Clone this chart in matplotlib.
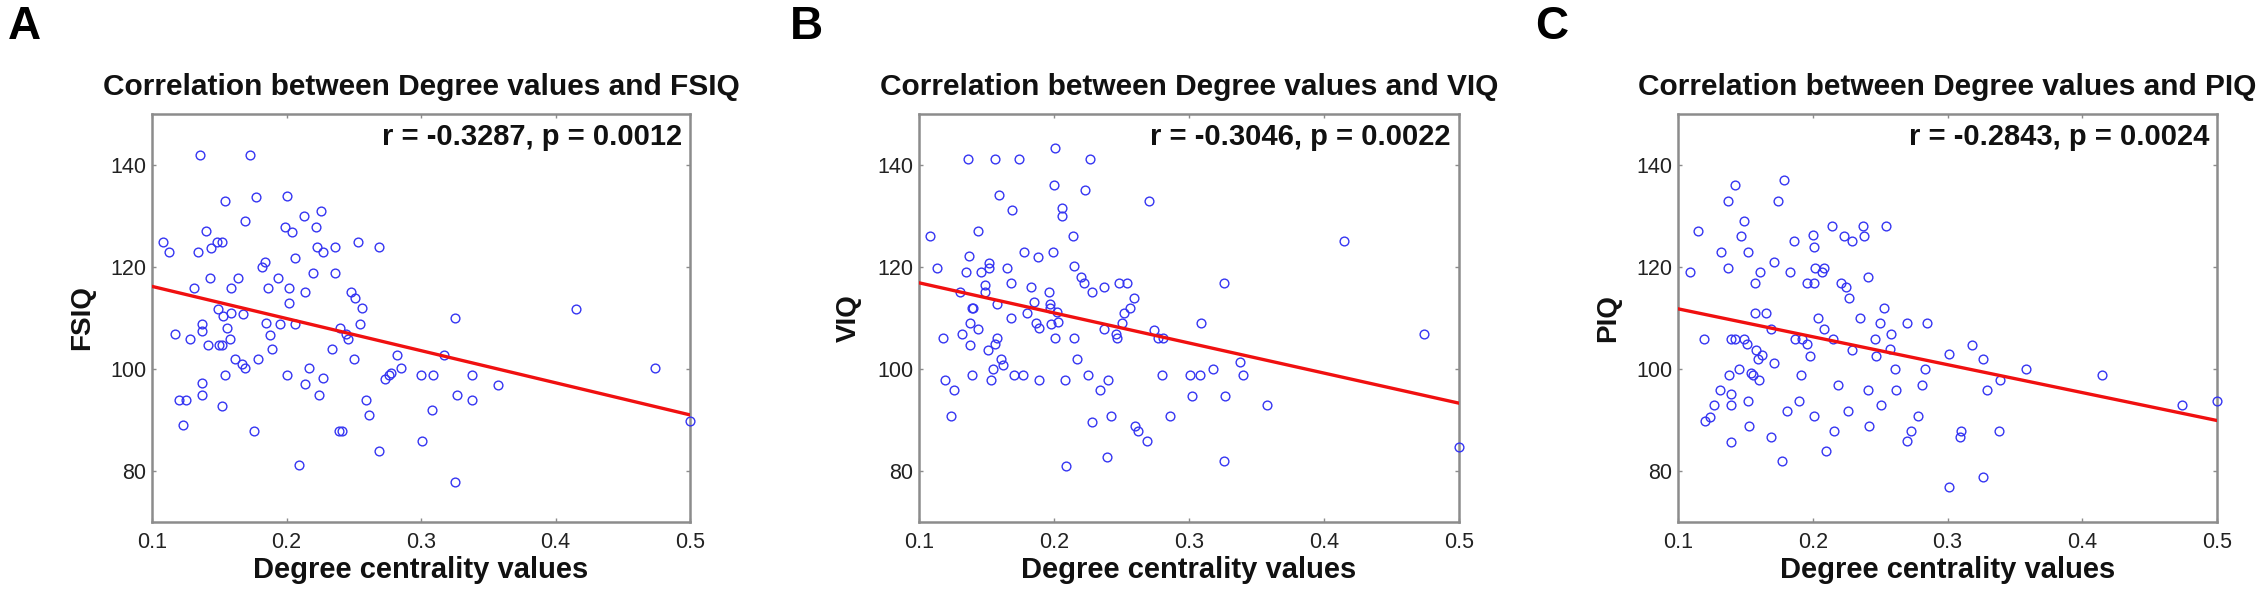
import matplotlib
matplotlib.use("Agg")
import matplotlib.pyplot as plt
import numpy as np

plt.rcParams['font.family'] = ['Liberation Sans', 'DejaVu Sans']

# ---------------- data ----------------
degree_A = [0.108, 0.113, 0.131, 0.117, 0.128, 0.120, 0.125, 0.123, 0.136, 0.134,
            0.140, 0.144, 0.148, 0.152, 0.143, 0.137, 0.137, 0.142, 0.150, 0.152,
            0.137, 0.137, 0.152, 0.154, 0.154, 0.149, 0.153, 0.156, 0.158, 0.159,
            0.159, 0.164, 0.162, 0.167, 0.169, 0.168, 0.169, 0.173, 0.177, 0.176,
            0.179, 0.182, 0.184, 0.186, 0.185, 0.188, 0.189, 0.194, 0.195, 0.200,
            0.199, 0.202, 0.202, 0.200, 0.204, 0.206, 0.206, 0.209, 0.213, 0.214,
            0.214, 0.217, 0.220, 0.222, 0.223, 0.224, 0.226, 0.227, 0.227, 0.234,
            0.236, 0.236, 0.239, 0.241, 0.240, 0.244, 0.246, 0.248, 0.250, 0.251,
            0.253, 0.255, 0.256, 0.259, 0.261, 0.269, 0.269, 0.273, 0.276, 0.278,
            0.282, 0.285, 0.301, 0.300, 0.309, 0.308, 0.317, 0.325, 0.325, 0.327,
            0.338, 0.338, 0.357, 0.415, 0.474, 0.500]
fsiq = [124.9, 122.9, 115.9, 106.8, 105.9, 94.0, 94.0, 89.0, 141.9, 122.9,
        127.0, 123.8, 124.9, 124.9, 117.8, 108.9, 107.4, 104.8, 104.8, 104.8,
        97.2, 94.9, 92.8, 98.9, 132.9, 111.8, 110.3, 108.1, 105.9, 110.9,
        115.9, 117.8, 101.9, 101.0, 100.1, 110.7, 129.0, 141.9, 133.7, 87.8,
        101.9, 120.0, 120.9, 115.9, 109.0, 106.6, 103.9, 117.8, 108.9, 134.0,
        127.9, 115.9, 112.9, 98.8, 126.9, 121.7, 108.9, 81.1, 130.0, 115.0,
        97.1, 100.1, 118.8, 127.9, 123.9, 94.9, 131.0, 123.0, 98.2, 103.9,
        118.9, 123.9, 87.8, 87.8, 108.0, 106.8, 105.9, 115.0, 101.9, 113.9,
        124.9, 108.9, 112.0, 94.0, 91.0, 123.9, 84.0, 98.0, 98.8, 99.2,
        102.7, 100.1, 85.8, 98.9, 98.9, 91.9, 102.7, 110.0, 77.9, 94.9,
        98.9, 94.0, 96.9, 111.8, 100.1, 89.9]

degree_B = [0.108, 0.113, 0.118, 0.119, 0.126, 0.124, 0.130, 0.132, 0.136, 0.137,
            0.135, 0.139, 0.140, 0.138, 0.138, 0.139, 0.144, 0.144, 0.146, 0.149,
            0.149, 0.151, 0.152, 0.152, 0.156, 0.153, 0.155, 0.156, 0.158, 0.158,
            0.159, 0.161, 0.162, 0.165, 0.168, 0.168, 0.169, 0.170, 0.174, 0.177,
            0.178, 0.180, 0.183, 0.185, 0.187, 0.188, 0.189, 0.189, 0.196, 0.197,
            0.197, 0.198, 0.199, 0.201, 0.200, 0.201, 0.202, 0.203, 0.206, 0.206,
            0.208, 0.209, 0.214, 0.215, 0.215, 0.217, 0.220, 0.222, 0.223, 0.225,
            0.227, 0.228, 0.228, 0.234, 0.237, 0.237, 0.239, 0.240, 0.242, 0.246,
            0.247, 0.248, 0.250, 0.252, 0.254, 0.256, 0.259, 0.260, 0.262, 0.269,
            0.270, 0.274, 0.277, 0.281, 0.280, 0.286, 0.301, 0.302, 0.308, 0.309,
            0.318, 0.326, 0.327, 0.326, 0.338, 0.340, 0.358, 0.415, 0.474, 0.500]
viq = [126.0, 119.9, 106.0, 97.9, 95.9, 90.8, 115.0, 106.9, 141.1, 122.1,
       119.0, 112.0, 112.0, 109.0, 104.7, 98.9, 127.0, 107.9, 119.0, 116.5,
       115.0, 103.8, 120.8, 119.9, 141.1, 97.9, 100.0, 104.9, 106.0, 112.8,
       134.1, 101.9, 100.8, 119.9, 116.9, 110.0, 131.1, 98.9, 141.1, 98.9,
       122.9, 111.0, 116.1, 113.1, 109.0, 121.9, 97.9, 108.0, 115.0, 112.8,
       112.0, 108.9, 122.9, 143.3, 136.0, 106.0, 111.1, 109.2, 131.5, 130.0,
       97.9, 80.9, 126.0, 120.1, 106.0, 101.9, 118.0, 116.9, 135.0, 98.9,
       141.1, 115.0, 89.7, 95.9, 116.1, 107.9, 82.8, 97.9, 90.8, 106.8,
       106.0, 116.9, 109.0, 111.0, 116.9, 112.0, 114.0, 88.8, 87.8, 85.8,
       133.0, 107.7, 106.0, 106.0, 98.9, 90.8, 98.9, 94.8, 98.9, 109.0,
       100.0, 116.9, 94.8, 82.0, 101.3, 98.9, 92.9, 125.0, 106.9, 84.8]

degree_C = [0.109, 0.115, 0.119, 0.120, 0.124, 0.127, 0.131, 0.132, 0.137, 0.137,
            0.139, 0.138, 0.139, 0.139, 0.139, 0.142, 0.142, 0.145, 0.147, 0.149,
            0.149, 0.151, 0.152, 0.152, 0.153, 0.154, 0.156, 0.157, 0.157, 0.158,
            0.159, 0.160, 0.161, 0.162, 0.165, 0.169, 0.169, 0.171, 0.171, 0.174,
            0.177, 0.179, 0.181, 0.183, 0.186, 0.187, 0.190, 0.191, 0.192, 0.196,
            0.196, 0.198, 0.200, 0.201, 0.201, 0.201, 0.202, 0.204, 0.207, 0.208,
            0.208, 0.210, 0.214, 0.215, 0.216, 0.219, 0.221, 0.223, 0.225, 0.226,
            0.227, 0.229, 0.229, 0.235, 0.237, 0.238, 0.241, 0.241, 0.242, 0.246,
            0.247, 0.250, 0.251, 0.253, 0.254, 0.257, 0.258, 0.261, 0.262, 0.270,
            0.270, 0.273, 0.278, 0.281, 0.283, 0.285, 0.301, 0.301, 0.309, 0.310,
            0.318, 0.326, 0.326, 0.329, 0.338, 0.339, 0.358, 0.415, 0.474, 0.500]
piq = [119.0, 127.0, 105.9, 89.9, 90.6, 93.0, 95.9, 122.9, 119.9, 133.0,
       105.9, 98.9, 95.1, 92.9, 85.6, 136.0, 105.9, 100.0, 126.0, 129.0,
       105.9, 104.9, 122.9, 93.8, 88.8, 99.3, 98.9, 116.9, 111.0, 103.8,
       101.9, 97.9, 119.0, 102.8, 111.0, 107.9, 86.7, 101.1, 121.0, 133.0,
       81.9, 137.0, 91.8, 119.0, 125.0, 105.9, 93.8, 98.9, 105.9, 116.9,
       104.9, 102.6, 126.3, 124.0, 116.9, 90.8, 119.9, 110.0, 119.0, 119.9,
       107.9, 83.9, 128.0, 105.9, 87.8, 96.8, 116.9, 126.0, 116.1, 91.8,
       114.0, 125.0, 103.8, 110.0, 128.0, 126.0, 118.0, 95.9, 88.8, 105.9,
       102.6, 109.0, 93.0, 112.0, 128.0, 104.0, 106.8, 100.0, 95.9, 109.0,
       85.8, 87.8, 90.8, 96.8, 100.0, 109.0, 103.0, 76.9, 86.7, 87.8,
       104.7, 101.9, 78.9, 95.9, 87.8, 97.9, 100.0, 98.9, 93.0, 93.8]

# regression line end values (at degree 0.1 and 0.5)
fit_x = [0.1, 0.5]
fit_A = [116.2, 91.0]
fit_B = [116.9, 93.3]
fit_C = [111.8, 89.9]

panel_letters = ['A', 'B', 'C']
titles = ['Correlation between Degree values and FSIQ',
          'Correlation between Degree values and VIQ',
          'Correlation between Degree values and PIQ']
ylabels = ['FSIQ', 'VIQ', 'PIQ']
stats_text = ['r = -0.3287, p = 0.0012',
              'r = -0.3046, p = 0.0022',
              'r = -0.2843, p = 0.0024']
xlabel = 'Degree centrality values'
xticks = [0.1, 0.2, 0.3, 0.4, 0.5]
xtick_labels = ['0.1', '0.2', '0.3', '0.4', '0.5']
yticks = [80, 100, 120, 140]
ytick_labels = ['80', '100', '120', '140']

# ---------------- figure ----------------
W, H = 2267, 598
fig = plt.figure(figsize=(W / 100, H / 100), dpi=100)
fig.patch.set_facecolor('white')

axes_px = [(152, 690), (919, 1459), (1678, 2217)]
top_px, bot_px = 114, 522
letter_x = [8, 790, 1535]

xs = [degree_A, degree_B, degree_C]
ys = [fsiq, viq, piq]
fits = [fit_A, fit_B, fit_C]

frame_col = '#8c8c8c'
for i in range(3):
    l, r = axes_px[i]
    ax = fig.add_axes([l / W, 1 - bot_px / H, (r - l) / W, (bot_px - top_px) / H])
    ax.plot(xs[i], ys[i], linestyle='none', marker='o', markersize=6.3,
            markerfacecolor='none', markeredgecolor='#3535f2', markeredgewidth=1.0,
            clip_on=False, zorder=3)
    ax.plot(fit_x, fits[i], color='#f01010', linewidth=2.4, zorder=4)
    ax.set_xlim(0.1, 0.5)
    ax.set_ylim(70, 150)
    ax.set_xticks(xticks)
    ax.set_xticklabels(xtick_labels)
    ax.set_yticks(yticks)
    ax.set_yticklabels(ytick_labels)
    ax.tick_params(axis='both', direction='in', length=3, width=1.0, color=frame_col,
                   labelsize=15.5, labelcolor='#222222', top=True, right=True)
    ax.tick_params(axis='x', pad=7)
    ax.tick_params(axis='y', pad=4)
    for s in ax.spines.values():
        s.set_color(frame_col)
        s.set_linewidth(1.8)
    ax.set_title(titles[i], fontsize=21.5, fontweight='bold', pad=14, color='#111111')
    ax.set_ylabel(ylabels[i], fontsize=20, fontweight='bold', labelpad=11, color='#111111')
    ax.set_xlabel(xlabel, fontsize=21, fontweight='bold', labelpad=2, color='#111111')
    ax.text(0.985, 0.924, stats_text[i], transform=ax.transAxes, ha='right',
            va='baseline', fontsize=21, fontweight='bold', color='#111111')
    fig.text(letter_x[i] / W, 1 - 39 / H, panel_letters[i], fontsize=33,
             fontweight='bold', ha='left', va='baseline', color='black')

fig.savefig('out.png', dpi=100, facecolor='white')
